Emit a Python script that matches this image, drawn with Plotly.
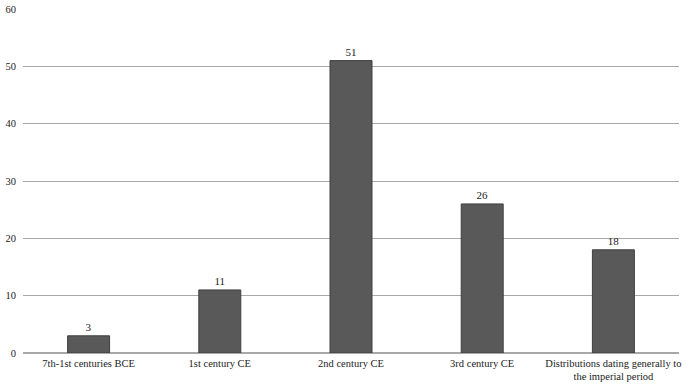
import plotly.graph_objects as go

categories = ["7th-1st centuries BCE", "1st century CE", "2nd century CE", "3rd century CE",
              "Distributions dating generally to<br>the imperial period"]
values = [3, 11, 51, 26, 18]

fig = go.Figure()
fig.add_trace(go.Bar(
    x=categories, y=values, text=[str(v) for v in values], textposition="outside",
    textfont=dict(family="Liberation Serif", size=11, color="#222222"),
    marker=dict(color="#595959", line=dict(color="#3f3f3f", width=1)),
    width=0.32, cliponaxis=False,
))
fig.update_layout(
    width=686, height=386, margin=dict(l=23, r=7, t=9, b=33),
    plot_bgcolor="white", paper_bgcolor="white",
    font=dict(family="Liberation Serif", size=10.5, color="#222222"),
    showlegend=False,
)
fig.update_yaxes(range=[0, 60], dtick=10, showgrid=True, gridcolor="#a8a8a8", gridwidth=1,
                 zeroline=True, zerolinecolor="#a8a8a8", ticks="", ticklabelstandoff=6,
                 tickfont=dict(size=10.5), automargin=False)
fig.update_xaxes(showgrid=False, ticks="", tickfont=dict(size=10.5), ticklabelstandoff=2,
                 automargin=False)
fig.write_html("out.html")
